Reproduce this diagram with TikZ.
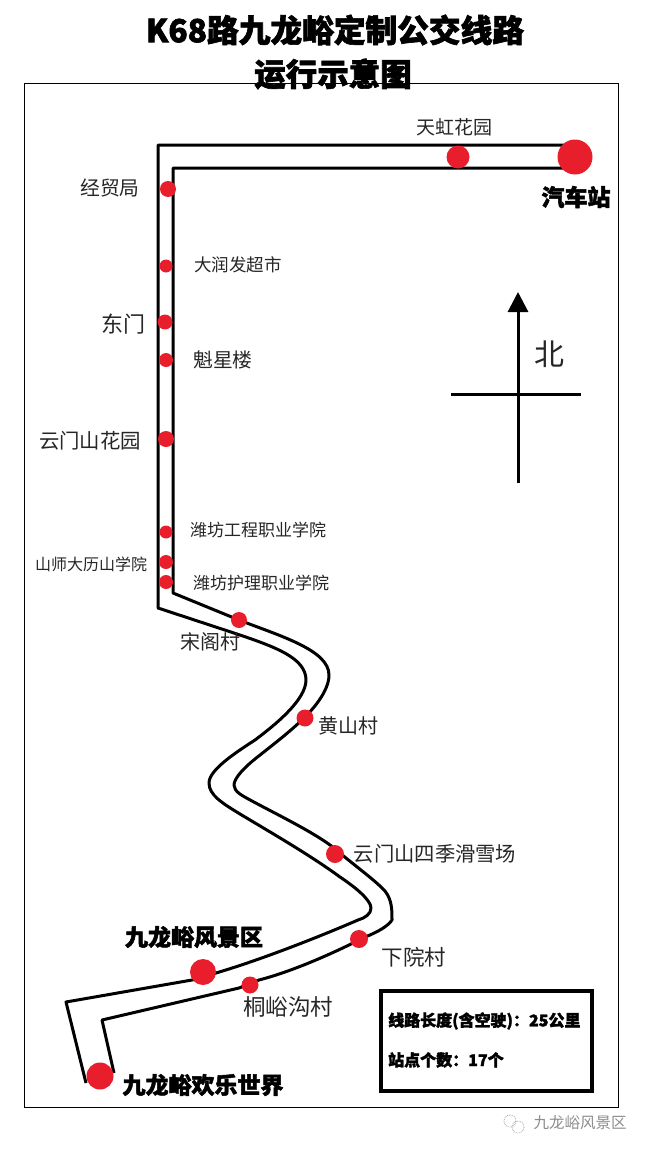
\documentclass[tikz,border=0pt]{standalone}
\usepackage{fontspec}
\usepackage{xcolor}
\setmainfont{Noto Sans CJK SC}[BoldFeatures={FakeBold=2}]
\usetikzlibrary{arrows.meta, positioning}
\definecolor{stopred}{RGB}{233,30,44}
\tikzset{
    routeline/.style={line width=3pt, line join=round},
    stopdot/.style={circle, fill=stopred, inner sep=0pt},
    placelabel/.style={inner sep=0pt, text=black!85},
    mainlabel/.style={inner sep=0pt, font=\bfseries},
}

\begin{document}
\begin{tikzpicture}[x=1pt, y=-1pt]
    \useasboundingbox (0,0) rectangle (648,1151);
    \draw[line width=1pt] (24,83) rectangle (618,1107);

    % Title
    \node[mainlabel, font=\fontsize{31.7}{32}\selectfont\bfseries] (titleone) at (335,30) {K68路九龙峪定制公交线路};
    \node[mainlabel, font=\fontsize{31.5}{32}\selectfont\bfseries] (titletwo) at (333,74) {运行示意图};

    % Route, two sides of the road
    \draw[routeline] (566,145) -- (158,145) -- (158,608) -- (240,635)
        .. controls (275,647) and (306,658) .. (306,680)
        .. controls (306,700) and (275,725) .. (255,740)
        .. controls (235,753) and (209,770) .. (209,783)
        .. controls (209,795) and (222,803) .. (240,814)
        .. controls (270,832) and (310,855) .. (340,877)
        .. controls (355,887) and (371,900) .. (371,908)
        .. controls (371,914) and (365,918) .. (358,920)
        .. controls (335,930) and (270,957) .. (216,973)
        -- (192,980) -- (66,1002) -- (86,1083);
    \draw[routeline] (566,168) -- (173,168) -- (173,593) -- (239,620)
        .. controls (280,636) and (329,650) .. (329,675)
        .. controls (329,690) and (315,707) .. (305,717)
        .. controls (290,732) and (270,747) .. (255,759)
        .. controls (245,767) and (234,778) .. (234,785)
        .. controls (234,792) and (243,796) .. (252,801)
        .. controls (280,816) and (315,833) .. (334,848)
        .. controls (350,862) and (375,880) .. (385,891)
        .. controls (392,900) and (392,910) .. (392,920)
        .. controls (388,926) and (378,932) .. (365,937)
        .. controls (330,955) and (290,972) .. (259,980)
        -- (239,988) -- (102,1020) -- (114,1073);

    % Stops
    \foreach \n/\x/\y/\d in {tianhong/458/157/23, station/575/157/35, jingmao/168/189/16, darun/166/266/13,
        dongmen/165/322/15, kuixing/166/360/14, yunhua/166/439/16, gongcheng/166/532/13, shanshi/166/562/14,
        huli/166/582/14, songge/239/620/16, huangshan/305/718/17, skifield/335/854/18, xiayuan/359/939/18,
        tongyu/250/985/17, scenic/203/972/26, park/100/1076/27} {
        \node[stopdot, minimum size=\d pt] (stop-\n) at (\x,\y) {};
    }

    % Stop names
    \foreach \n/\x/\y/\s/\l in {tianhong/454/127/19/天虹花园, jingmao/110/188/19.8/经贸局, darun/238/265/17.5/大润发超市,
        dongmen/123/324/22/东门, kuixing/223/360/19.8/魁星楼, yunhua/90/441/20.4/云门山花园,
        gongcheng/258/530/17/潍坊工程职业学院, shanshi/91/564/16/山师大历山学院, huli/261/583/17/潍坊护理职业学院,
        songge/210/642/20/宋阁村, huangshan/348/726/20/黄山村, skifield/435/854/20.3/云门山四季滑雪场,
        xiayuan/414/957/21.5/下院村, tongyu/288/1007/22.5/桐峪沟村} {
        \node[placelabel, font=\fontsize{\s}{\s}\selectfont] (label-\n) at (\x,\y) {\l};
    }
    \foreach \n/\x/\y/\l in {station/576/197/汽车站, scenic/194/937/九龙峪风景区, park/203/1085/九龙峪欢乐世界} {
        \node[mainlabel, font=\fontsize{23}{23}\selectfont\bfseries] (label-\n) at (\x,\y) {\l};
    }

    % North mark
    \coordinate (northtop) at (518,292);
    \coordinate (northend) at (518,483);
    \coordinate (westend) at (451,394);
    \coordinate (eastend) at (581,394);
    \draw[line width=3pt, -{Triangle[width=20pt, length=20pt]}] (northend) -- (northtop);
    \draw[line width=3pt] (westend) -- (eastend);
    \node[placelabel, font=\fontsize{30}{30}\selectfont] (northlabel) at (549,354) {北};

    % Info box
    \draw[line width=3.5pt] (381,991) rectangle (592,1091);
    \node[mainlabel, anchor=west, font=\fontsize{16}{16}\selectfont\bfseries] (lengthinfo) at (388,1021) {线路长度(含空驶)：25公里};
    \node[mainlabel, anchor=west, font=\fontsize{16}{16}\selectfont\bfseries] (stopinfo) at (388,1060) {站点个数：17个};

    % Watermark
    \draw[gray!70, densely dotted, line width=0.8pt] (510,1121) circle (6);
    \draw[gray!70, densely dotted, line width=0.8pt] (518,1127) circle (6);
    \node[placelabel, text=gray!90, font=\fontsize{15.5}{15.5}\selectfont] (watermark) at (580,1123) {九龙峪风景区};
\end{tikzpicture}
\end{document}
